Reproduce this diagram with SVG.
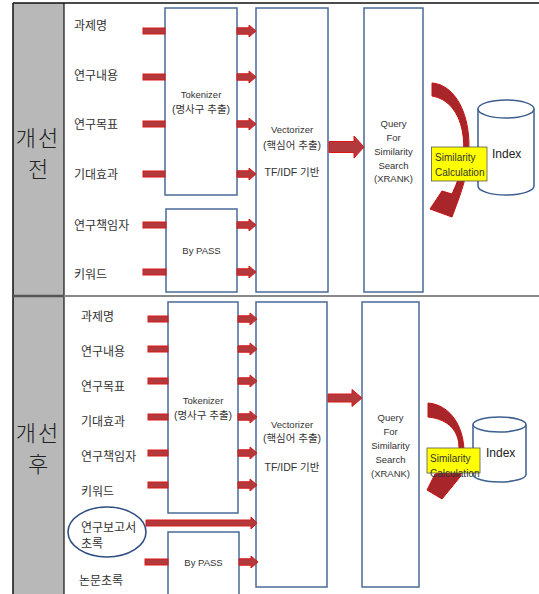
<svg xmlns="http://www.w3.org/2000/svg" xmlns:xlink="http://www.w3.org/1999/xlink" width="539" height="594" viewBox="0 0 539 594">
<style>
.box{fill:#fff;stroke:#4a6a98;stroke-width:1.5}
.arr{fill:#b33a3c;stroke:#d81818;stroke-width:1}
.curve{fill:#a8262a;stroke:#c81010;stroke-width:1}
.lbl{font-family:"Noto Sans CJK KR","Liberation Sans",sans-serif;font-size:12px;fill:#333}
.t{font-family:"Liberation Sans","Noto Sans CJK KR",sans-serif;font-size:9.5px;fill:#333;text-anchor:middle}
.tk{font-family:"Liberation Sans","Noto Sans CJK KR",sans-serif;font-size:10.5px;fill:#333;text-anchor:middle}
.big{font-family:"Noto Sans CJK KR",sans-serif;font-size:22px;font-weight:300;fill:#222;text-anchor:middle}
.yel{fill:#ffff00;stroke:#555;stroke-width:0.8}
.yt{font-family:"Liberation Sans",sans-serif;font-size:10px;fill:#333}
.cyl{fill:#fff;stroke:#3d5f8f;stroke-width:1.5}
</style>
<defs>
<path id="sa" d="M0,-3.2 H12 V-6 L19,0 L12,6 V3.2 H0 Z"/>
</defs>
<rect x="0" y="0" width="539" height="594" fill="#fff"/>
<g id="frame">
<rect x="13" y="3" width="51" height="591" fill="#b8b8b8"/>
<line x1="13" y1="3" x2="539" y2="3" stroke="#111" stroke-width="1.5"/>
<line x1="13" y1="3" x2="13" y2="594" stroke="#111" stroke-width="1.5"/>
<line x1="64" y1="3" x2="64" y2="594" stroke="#111" stroke-width="1.2"/>
<line x1="13" y1="296" x2="64" y2="296" stroke="#555" stroke-width="2.5"/>
<line x1="64" y1="296" x2="539" y2="296" stroke="#888" stroke-width="2"/>
<text class="big" x="38" y="146" letter-spacing="2">개선</text>
<text class="big" x="38" y="177">전</text>
<text class="big" x="38" y="441" letter-spacing="2">개선</text>
<text class="big" x="38" y="472">후</text>
</g>
<g id="labels-top">
<text class="lbl" x="74" y="29.5">과제명</text>
<text class="lbl" x="74" y="79.5">연구내용</text>
<text class="lbl" x="74" y="128.5">연구목표</text>
<text class="lbl" x="74" y="178.5">기대효과</text>
<text class="lbl" x="74" y="229.5">연구책임자</text>
<text class="lbl" x="74" y="278.5">키워드</text>
</g>
<g id="labels-bottom">
<text class="lbl" x="81" y="320.5">과제명</text>
<text class="lbl" x="81" y="355.5">연구내용</text>
<text class="lbl" x="81" y="390.5">연구목표</text>
<text class="lbl" x="81" y="425.5">기대효과</text>
<text class="lbl" x="81" y="460.5">연구책임자</text>
<text class="lbl" x="81" y="495.5">키워드</text>
<text class="lbl" x="79" y="585">논문초록</text>
</g>
<g id="report-abstract">
<ellipse cx="107" cy="532" rx="39" ry="25" fill="none" stroke="#2f4f80" stroke-width="1.6"/>
<text class="lbl" x="81" y="531.5">연구보고서</text>
<text class="lbl" x="81" y="547.5">초록</text>
</g>
<g id="tokenizer-top">
<rect class="box" x="165" y="8" width="72" height="187"/>
<text class="t" x="201" y="97.5" font-size="10">Tokenizer</text>
<text class="tk" x="201" y="113">(명사구 추출)</text>
</g>
<g id="bypass-top">
<rect class="box" x="166" y="209" width="71" height="83"/>
<text class="t" x="201.5" y="253.5">By PASS</text>
</g>
<g id="vectorizer-top">
<rect class="box" x="256" y="8" width="72" height="284"/>
<text class="t" x="292" y="132.5" font-size="10">Vectorizer</text>
<text class="tk" x="292" y="149">(핵심어 추출)</text>
<text class="tk" x="292" y="176">TF/IDF 기반</text>
</g>
<g id="query-top">
<rect class="box" x="364" y="8" width="59" height="284"/>
<text class="t" x="393.5" y="126.5">Query</text>
<text class="t" x="393.5" y="140.5">For</text>
<text class="t" x="393.5" y="154.5">Similarity</text>
<text class="t" x="393.5" y="168.5">Search</text>
<text class="t" x="393.5" y="181.5">(XRANK)</text>
</g>
<g id="index-top">
<path class="cyl" d="M478,109 V186 A28,9 0 0,0 534,186 V109"/>
<ellipse class="cyl" cx="506" cy="109" rx="28" ry="9"/>
<text x="492" y="157.5" font-family="Liberation Sans,sans-serif" font-size="12" fill="#222">Index</text>
</g>
<g id="tokenizer-bottom">
<rect class="box" x="168" y="302" width="70" height="211"/>
<text class="t" x="203" y="404" font-size="10">Tokenizer</text>
<text class="tk" x="203" y="418.5">(명사구 추출)</text>
</g>
<g id="bypass-bottom">
<rect class="box" x="168" y="532" width="71" height="70"/>
<text class="t" x="203.5" y="565.5">By PASS</text>
</g>
<g id="vectorizer-bottom">
<rect class="box" x="256" y="302" width="71" height="285"/>
<text class="t" x="292" y="427.5" font-size="10">Vectorizer</text>
<text class="tk" x="292" y="442">(핵심어 추출)</text>
<text class="tk" x="292" y="471">TF/IDF 기반</text>
</g>
<g id="query-bottom">
<rect class="box" x="362" y="302" width="57" height="285"/>
<text class="t" x="390.5" y="420.5">Query</text>
<text class="t" x="390.5" y="434.5">For</text>
<text class="t" x="390.5" y="448.5">Similarity</text>
<text class="t" x="390.5" y="462.5">Search</text>
<text class="t" x="390.5" y="477">(XRANK)</text>
</g>
<g id="index-bottom">
<path class="cyl" d="M473,424.5 V474.5 A26.5,7.5 0 0,0 526,474.5 V424.5"/>
<ellipse class="cyl" cx="499.5" cy="424.5" rx="26.5" ry="7.5"/>
<text x="486" y="457" font-family="Liberation Sans,sans-serif" font-size="12" fill="#222">Index</text>
</g>
<g id="connectors">
<rect class="arr" x="143" y="28" width="22" height="6"/>
<rect class="arr" x="143" y="74" width="22" height="6"/>
<rect class="arr" x="143" y="121" width="22" height="6"/>
<rect class="arr" x="143" y="171" width="22" height="6"/>
<rect class="arr" x="143" y="222" width="23" height="6"/>
<rect class="arr" x="143" y="269" width="23" height="6"/>
<use xlink:href="#sa" class="arr" x="237" y="31"/>
<use xlink:href="#sa" class="arr" x="237" y="77"/>
<use xlink:href="#sa" class="arr" x="237" y="124"/>
<use xlink:href="#sa" class="arr" x="237" y="174"/>
<use xlink:href="#sa" class="arr" x="237" y="225"/>
<use xlink:href="#sa" class="arr" x="237" y="272"/>
<path class="arr" d="M329,141.5 H354 V136 L364,147 L354,158 V152.5 H329 Z"/>
<rect class="arr" x="148" y="316" width="20" height="6"/>
<rect class="arr" x="148" y="346" width="20" height="6"/>
<rect class="arr" x="148" y="378" width="20" height="6"/>
<rect class="arr" x="148" y="414" width="20" height="6"/>
<rect class="arr" x="148" y="450" width="20" height="6"/>
<rect class="arr" x="148" y="482" width="20" height="6"/>
<use xlink:href="#sa" class="arr" x="238" y="319"/>
<use xlink:href="#sa" class="arr" x="238" y="349"/>
<use xlink:href="#sa" class="arr" x="238" y="381"/>
<use xlink:href="#sa" class="arr" x="238" y="417"/>
<use xlink:href="#sa" class="arr" x="238" y="453"/>
<use xlink:href="#sa" class="arr" x="238" y="485"/>
<path class="arr" d="M146,520 H251 V517 L257,523 L251,529 V526 H146 Z"/>
<rect class="arr" x="145" y="559" width="23" height="6"/>
<use xlink:href="#sa" class="arr" x="239" y="562"/>
<path class="arr" d="M328,394 H352 V389.5 L362,398 L352,406.5 V402 H328 Z"/>
<path class="curve" d="M432,83 C462,85 482,136 459,198 L452,217 L430,209 L442,191 L452,194 C474,150 464,101 432,96 Z"/>
<path class="curve" d="M428,403 C456,405 472,440 460,477 L442,499 L427,490 L435,474 L453,471 C466,444 458,420 428,417 Z"/>
</g>
<g id="similarity-top">
<rect class="yel" x="431.5" y="147" width="55.5" height="34"/>
<text class="yt" x="435" y="161">Similarity</text>
<text class="yt" x="435" y="176">Calculation</text>
</g>
<g id="similarity-bottom">
<rect class="yel" x="427" y="448" width="53" height="25"/>
<text class="yt" x="430" y="462">Similarity</text>
<text class="yt" x="430" y="477">Calculation</text>
</g>
</svg>
